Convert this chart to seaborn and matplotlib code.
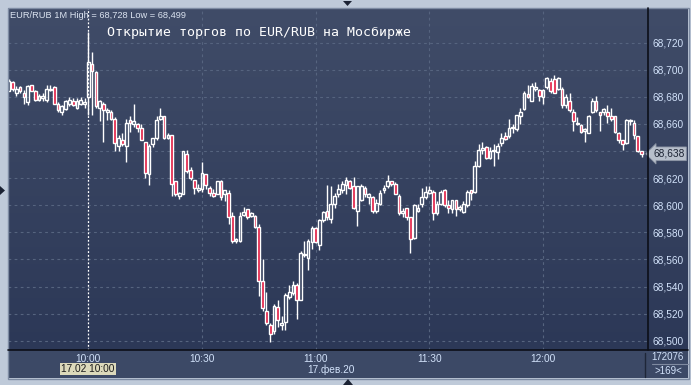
import numpy as np
import pandas as pd
import matplotlib
matplotlib.use("Agg")
import matplotlib.pyplot as plt
import matplotlib.dates as mdates
import matplotlib.transforms as mtransforms
from matplotlib.patches import Rectangle, Polygon
from matplotlib.lines import Line2D
import seaborn as sns

# ---------------- data (EUR/RUB, 1-minute candles, 17.02.2020) ----------------
start_time = "2020-02-17 09:39"
opens = [68.684, 68.691, 68.683, 68.687, 68.683, 68.676, 68.689, 68.684, 68.678, 68.679,
         68.678, 68.685, 68.687, 68.675, 68.669, 68.671, 68.675, 68.677, 68.672, 68.675,
         68.675, 68.680, 68.704, 68.698, 68.672, 68.675, 68.669, 68.669, 68.664, 68.644,
         68.648, 68.644, 68.663, 68.660, 68.660, 68.657, 68.647, 68.623, 68.645, 68.650,
         68.664, 68.666, 68.650, 68.652, 68.618, 68.607, 68.608, 68.638, 68.626, 68.619,
         68.611, 68.612, 68.623, 68.613, 68.609, 68.608, 68.618, 68.608, 68.609, 68.592,
         68.574, 68.574, 68.593, 68.597, 68.592, 68.592, 68.584, 68.544, 68.522, 68.512,
         68.507, 68.525, 68.512, 68.514, 68.532, 68.535, 68.541, 68.530, 68.563, 68.561,
         68.573, 68.583, 68.571, 68.589, 68.596, 68.590, 68.601, 68.608, 68.611, 68.615,
         68.618, 68.614, 68.596, 68.604, 68.613, 68.606, 68.606, 68.596, 68.601, 68.611,
         68.614, 68.618, 68.616, 68.607, 68.594, 68.598, 68.591, 68.576, 68.596, 68.601,
         68.606, 68.609, 68.610, 68.594, 68.601, 68.611, 68.600, 68.597, 68.604, 68.597,
         68.595, 68.600, 68.611, 68.610, 68.629, 68.641, 68.643, 68.635, 68.640, 68.639,
         68.646, 68.651, 68.651, 68.657, 68.656, 68.666, 68.671, 68.682, 68.677, 68.686,
         68.685, 68.680, 68.687, 68.692, 68.693, 68.686, 68.686, 68.674, 68.677, 68.669,
         68.660, 68.659, 68.655, 68.653, 68.669, 68.677, 68.669, 68.669, 68.669, 68.666,
         68.666, 68.653, 68.648, 68.646, 68.662, 68.661, 68.651, 68.640]
highs = [68.693, 68.692, 68.688, 68.688, 68.685, 68.689, 68.689, 68.685, 68.682, 68.683,
         68.689, 68.689, 68.688, 68.676, 68.674, 68.678, 68.680, 68.679, 68.679, 68.680,
         68.679, 68.728, 68.713, 68.699, 68.678, 68.676, 68.672, 68.670, 68.665, 68.652,
         68.653, 68.664, 68.666, 68.675, 68.661, 68.660, 68.647, 68.645, 68.650, 68.666,
         68.672, 68.666, 68.653, 68.652, 68.618, 68.610, 68.640, 68.641, 68.628, 68.619,
         68.616, 68.632, 68.623, 68.614, 68.612, 68.618, 68.619, 68.611, 68.611, 68.595,
         68.576, 68.595, 68.599, 68.597, 68.595, 68.593, 68.586, 68.560, 68.536, 68.513,
         68.527, 68.530, 68.518, 68.535, 68.541, 68.544, 68.543, 68.566, 68.574, 68.575,
         68.585, 68.584, 68.590, 68.596, 68.615, 68.614, 68.609, 68.616, 68.618, 68.621,
         68.619, 68.621, 68.614, 68.616, 68.614, 68.609, 68.607, 68.605, 68.611, 68.615,
         68.622, 68.618, 68.617, 68.608, 68.598, 68.598, 68.591, 68.601, 68.601, 68.613,
         68.614, 68.614, 68.611, 68.603, 68.611, 68.612, 68.604, 68.604, 68.604, 68.600,
         68.603, 68.611, 68.611, 68.633, 68.645, 68.647, 68.644, 68.643, 68.645, 68.646,
         68.653, 68.654, 68.664, 68.660, 68.667, 68.672, 68.684, 68.689, 68.690, 68.691,
         68.686, 68.686, 68.695, 68.694, 68.696, 68.695, 68.687, 68.682, 68.683, 68.671,
         68.665, 68.660, 68.657, 68.667, 68.679, 68.681, 68.669, 68.672, 68.674, 68.672,
         68.666, 68.654, 68.648, 68.664, 68.664, 68.663, 68.651, 68.640]
lows = [68.684, 68.684, 68.681, 68.683, 68.675, 68.674, 68.684, 68.677, 68.677, 68.677,
        68.676, 68.684, 68.675, 68.669, 68.667, 68.670, 68.673, 68.673, 68.671, 68.674,
        68.672, 68.667, 68.667, 68.672, 68.662, 68.647, 68.663, 68.663, 68.640, 68.640,
        68.644, 68.632, 68.654, 68.658, 68.654, 68.648, 68.620, 68.615, 68.643, 68.648,
        68.663, 68.649, 68.649, 68.607, 68.607, 68.605, 68.608, 68.624, 68.619, 68.608,
        68.610, 68.610, 68.612, 68.607, 68.606, 68.608, 68.604, 68.603, 68.586, 68.572,
        68.572, 68.573, 68.592, 68.590, 68.591, 68.583, 68.533, 68.522, 68.512, 68.499,
        68.505, 68.510, 68.508, 68.508, 68.531, 68.534, 68.516, 68.530, 68.562, 68.552,
        68.568, 68.572, 68.567, 68.588, 68.589, 68.587, 68.598, 68.606, 68.609, 68.608,
        68.612, 68.597, 68.585, 68.603, 68.606, 68.601, 68.594, 68.594, 68.600, 68.609,
        68.613, 68.614, 68.608, 68.593, 68.591, 68.589, 68.565, 68.575, 68.595, 68.599,
        68.605, 68.608, 68.589, 68.593, 68.600, 68.599, 68.594, 68.594, 68.592, 68.596,
        68.594, 68.599, 68.604, 68.609, 68.628, 68.638, 68.634, 68.634, 68.629, 68.634,
        68.644, 68.648, 68.650, 68.653, 68.655, 68.660, 68.670, 68.679, 68.677, 68.684,
        68.677, 68.675, 68.686, 68.683, 68.683, 68.685, 68.672, 68.672, 68.669, 68.655,
        68.659, 68.653, 68.647, 68.653, 68.668, 68.669, 68.655, 68.667, 68.661, 68.662,
        68.653, 68.646, 68.641, 68.645, 68.659, 68.649, 68.639, 68.636]
closes = [68.692, 68.686, 68.686, 68.684, 68.680, 68.688, 68.684, 68.678, 68.681, 68.681,
          68.686, 68.686, 68.675, 68.670, 68.673, 68.677, 68.678, 68.674, 68.677, 68.678,
          68.676, 68.706, 68.699, 68.673, 68.677, 68.670, 68.670, 68.664, 68.646, 68.650,
          68.645, 68.661, 68.661, 68.662, 68.657, 68.648, 68.624, 68.644, 68.650, 68.663,
          68.666, 68.650, 68.652, 68.616, 68.608, 68.609, 68.640, 68.625, 68.620, 68.613,
          68.613, 68.624, 68.615, 68.609, 68.607, 68.618, 68.606, 68.611, 68.591, 68.574,
          68.575, 68.592, 68.595, 68.591, 68.594, 68.584, 68.544, 68.524, 68.513, 68.505,
          68.526, 68.515, 68.513, 68.534, 68.536, 68.541, 68.530, 68.565, 68.564, 68.574,
          68.583, 68.573, 68.589, 68.595, 68.591, 68.601, 68.607, 68.612, 68.616, 68.619,
          68.613, 68.598, 68.614, 68.614, 68.608, 68.608, 68.596, 68.602, 68.609, 68.613,
          68.618, 68.616, 68.608, 68.594, 68.596, 68.591, 68.575, 68.600, 68.598, 68.606,
          68.610, 68.611, 68.594, 68.601, 68.610, 68.600, 68.598, 68.604, 68.597, 68.599,
          68.601, 68.610, 68.609, 68.629, 68.641, 68.642, 68.635, 68.640, 68.641, 68.644,
          68.650, 68.649, 68.657, 68.658, 68.667, 68.669, 68.683, 68.680, 68.688, 68.687,
          68.681, 68.685, 68.694, 68.684, 68.683, 68.694, 68.674, 68.680, 68.670, 68.662,
          68.661, 68.654, 68.656, 68.666, 68.677, 68.670, 68.667, 68.671, 68.666, 68.664,
          68.654, 68.648, 68.645, 68.663, 68.663, 68.652, 68.640, 68.638]

price_ticks = [68.500, 68.520, 68.540, 68.560, 68.580, 68.600,
               68.620, 68.640, 68.660, 68.680, 68.700, 68.720]
# the 68,640 label is covered by the last-price tag in the original
price_tick_labels = ["68,500", "68,520", "68,540", "68,560", "68,580", "68,600",
                     "68,620", "", "68,660", "68,680", "68,700", "68,720"]
time_ticks = ["2020-02-17 10:00", "2020-02-17 10:30", "2020-02-17 11:00",
              "2020-02-17 11:30", "2020-02-17 12:00"]
time_tick_labels = ["10:00", "10:30", "11:00", "11:30", "12:00"]
cursor_time = "2020-02-17 10:00"
cursor_label = "17.02 10:00"
date_label = "17.фев.20"
info_text = "EUR/RUB 1M High = 68,728 Low = 68,499"
title_text = "Открытие торгов по EUR/RUB на Мосбирже"
last_price_label = "68,638"
volume_label = "172076"
bars_label = ">169<"

# ---------------- style ----------------
sns.set_theme(style="dark")
plt.rcParams['font.family'] = ['Liberation Sans', 'DejaVu Sans']

W, H = 691, 385
fig = plt.figure(figsize=(W / 100, H / 100), dpi=100)
fig.patch.set_facecolor('#bfcad9')


def fr(x0, y0, x1, y1):
    return [x0 / W, 1 - y1 / H, (x1 - x0) / W, (y1 - y0) / H]


# background gradient of chart + price panel
bg = fig.add_axes(fr(8, 8, 688, 350))
top_c = np.array([64, 76, 104]) / 255
bot_c = np.array([44, 56, 87]) / 255
grad = np.linspace(0, 1, 256)[:, None, None]
img = top_c * (1 - grad) + bot_c * grad
bg.imshow(np.repeat(img, 2, axis=1), aspect='auto', extent=[0, 1, 0, 1])
bg.set_axis_off()

# bottom time panel
bg2 = fig.add_axes(fr(8, 350, 688, 378))
bg2.set_facecolor('#3c4966')
bg2.set_xticks([]); bg2.set_yticks([])
for s in bg2.spines.values():
    s.set_visible(False)

ax = fig.add_axes(fr(8, 8, 648, 350))
ax.patch.set_alpha(0)
for s in ax.spines.values():
    s.set_visible(False)

df = pd.DataFrame({
    "time": pd.date_range(start_time, periods=len(opens), freq="min"),
    "open": opens, "high": highs, "low": lows, "close": closes,
})
t = mdates.date2num(df["time"])
o = df["open"].to_numpy(); c = df["close"].to_numpy()
h = df["high"].to_numpy(); l = df["low"].to_numpy()
up = c >= o
minute = 1 / 1440.0
t_cur = mdates.date2num(pd.Timestamp(cursor_time))

ax.set_xlim(t_cur - 21.2 * minute, t_cur + 147.7 * minute)
ax.set_ylim(68.4932, 68.7456)

# grid
grid_col = '#56647f'
for p in price_ticks:
    ax.axhline(p, color=grid_col, lw=0.8, ls=(0, (2.5, 3)), zorder=1)
tt = mdates.date2num(pd.to_datetime(time_ticks))
for x in tt[1:]:
    ax.axvline(x, color=grid_col, lw=0.8, ls=(0, (2.5, 3)), zorder=1)

# cursor line
ax.axvline(t_cur, color='white', lw=0.9, ls=(0, (1.5, 1.5)), zorder=2)

# candles
body_lo = np.minimum(o, c); body_hi = np.maximum(o, c)
ax.vlines(t, body_hi, h, color='white', lw=1.0, zorder=3)
ax.vlines(t, l, body_lo, color='white', lw=1.0, zorder=3)
fills = np.where(up, 'none', '#e0143c')
ax.bar(t, body_hi - body_lo, bottom=body_lo, width=0.72 * minute,
       color=list(fills), edgecolor='white', linewidth=1.0, zorder=4)

# axes ticks
ax.yaxis.tick_right()
ax.set_yticks(price_ticks, price_tick_labels)
ax.tick_params(axis='y', length=0, pad=3, labelsize=7.3, colors='#d2e2fa')
ax.set_xticks(tt, time_tick_labels)
ax.tick_params(axis='x', length=0, pad=3, labelsize=7.3, colors='#d2e2fa')
ax.grid(False)

# last price tag
blend = mtransforms.blended_transform_factory(ax.transAxes, ax.transData)
ax.text(1.008, c[-1], last_price_label, transform=blend, ha='left', va='center',
        fontsize=7.3, color='#1c2333', clip_on=False, zorder=6,
        bbox=dict(boxstyle='larrow,pad=0.18', fc='#b7bfcb', ec='#8d96a6', lw=0.6))

# separator lines
fig.add_artist(Line2D([648 / W, 648 / W], [1 - 8 / H, 1 - 350 / H], color='#0c0f18', lw=1.2))
fig.add_artist(Line2D([8 / W, 688 / W], [1 - 350 / H, 1 - 350 / H], color='#0c0f18', lw=1.2))
fig.add_artist(Line2D([644.5 / W, 644.5 / W], [1 - 353 / H, 1 - 377 / H], color='#1e2638', lw=1))
fig.add_artist(Line2D([652 / W, 688 / W], [1 - 364 / H, 1 - 364 / H], color='#7f8aa0', lw=0.8))

# frame
fig.add_artist(Rectangle((7.5 / W, 1 - 378.5 / H), 681 / W, 371 / H, transform=fig.transFigure,
                         fill=False, ec='#7e8ca3', lw=1))

# texts
fig.text(10 / W, 1 - 15.5 / H, info_text, ha='left', va='center', fontsize=6.7, color='#dbe3f0')
fig.text(107 / W, 1 - 32.5 / H, title_text, ha='left', va='center', fontsize=9.5,
         color='white', family=['DejaVu Sans Mono', 'DejaVu Sans'])
fig.text(88 / W, 1 - 369 / H, cursor_label, ha='center', va='center', fontsize=7.3,
         color='#1a1a1a', bbox=dict(boxstyle='square,pad=0.12', fc='#dcd9bb', ec='none'))
fig.text(331 / W, 1 - 369.5 / H, date_label, ha='center', va='center', fontsize=7.3, color='#d2e2fa')
fig.text(668 / W, 1 - 357 / H, volume_label, ha='center', va='center', fontsize=7, color='#d2e2fa')
fig.text(668 / W, 1 - 371.5 / H, bars_label, ha='center', va='center', fontsize=7, color='#d2e2fa')

# small navigation triangles
tri_col = '#1b2233'
fig.add_artist(Polygon([(343 / W, 1 - 1 / H), (352 / W, 1 - 1 / H), (347.5 / W, 1 - 6 / H)],
                       closed=True, transform=fig.transFigure, fc=tri_col, ec='none'))
fig.add_artist(Polygon([(0, 1 - 186 / H), (0, 1 - 195 / H), (5 / W, 1 - 190.5 / H)],
                       closed=True, transform=fig.transFigure, fc=tri_col, ec='none'))
fig.add_artist(Polygon([(343 / W, 0), (353 / W, 0), (348 / W, 6 / H)],
                       closed=True, transform=fig.transFigure, fc=tri_col, ec='none'))

fig.savefig("out.png", dpi=100, facecolor=fig.get_facecolor())
